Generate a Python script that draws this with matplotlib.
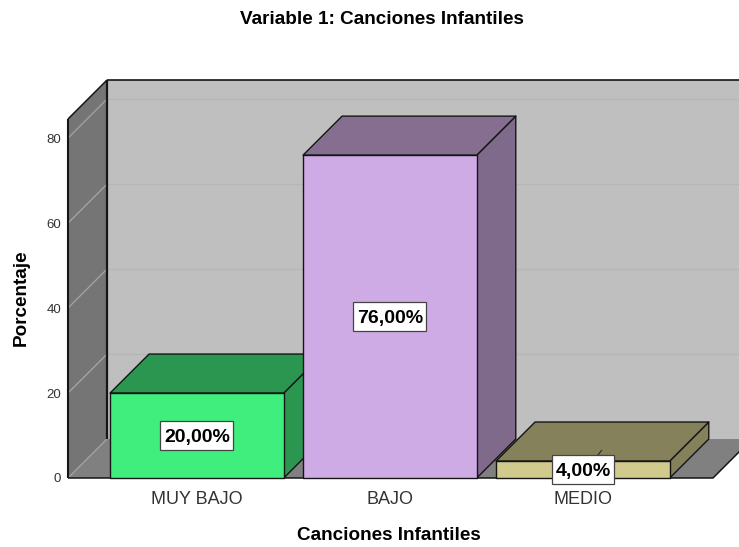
import matplotlib
matplotlib.use("Agg")
import matplotlib.pyplot as plt
from matplotlib.patches import Rectangle

plt.rcParams["font.family"] = ["Liberation Sans", "DejaVu Sans"]

# ---- data ----
categories = ["MUY BAJO", "BAJO", "MEDIO"]
percentages = [20, 76, 4]
value_labels = ["20,00%", "76,00%", "4,00%"]
y_ticks = [0, 20, 40, 60, 80]

# ---- colours (front, top, side) ----
front_colors = ["#40EE7E", "#CFABE5", "#D0CB8D"]
top_colors = ["#2A9650", "#856E90", "#84815B"]
side_colors = ["#2A9650", "#7F6A8C", "#84815B"]

W, H = 739, 547
fig = plt.figure(figsize=(W / 100, H / 100), dpi=100, facecolor="white")

# axes covers the front plane of the 3D box
ax = fig.add_axes([68 / W, (H - 478) / H, 645 / W, 359 / H])
xmin, xmax = -0.668, 2.674
ymin, ymax = 0, 84.5
ax.set_xlim(xmin, xmax)
ax.set_ylim(ymin, ymax)
ax.patch.set_visible(False)
for s in ax.spines.values():
    s.set_visible(False)

# depth of the box in data units
px_x = 1 / 193
px_y = 1 / 4.25
dx = 39 * px_x
dy = 39 * px_y
bar_width = 0.9
edge = "#151515"


def poly(xs, ys, color, z, ec="none", lw=1.0):
    ax.fill(xs, ys, facecolor=color, edgecolor=ec, linewidth=lw, zorder=z,
            clip_on=False, joinstyle="round")


def seg(xs, ys, color, lw, z):
    ax.plot(xs, ys, color=color, linewidth=lw, zorder=z, clip_on=False,
            solid_capstyle="butt")


# ---- walls and floor ----
right = xmax + dx
poly([xmin + dx, right, right, xmin + dx],
     [dy, dy, ymax + dy, ymax + dy], "#BFBFBF", 1)
poly([xmin, xmin + dx, xmin + dx, xmin],
     [0, dy, ymax + dy, ymax], "#757575", 1)
poly([xmin, xmax, xmax + dx, xmin + dx], [0, 0, dy, dy], "#808080", 1)

for t in y_ticks:
    if t > 0:
        seg([xmin + dx, right], [t + dy, t + dy], "#B6B6B6", 0.9, 2)
    seg([xmin, xmin + dx], [t, t + dy], "#A6A6A6", 0.9, 2)

seg([xmin, xmin], [0, ymax], edge, 1.5, 3)
seg([xmin + dx, xmin + dx], [dy, ymax + dy], edge, 1.6, 3)
seg([xmin, xmin + dx], [ymax, ymax + dy], edge, 1.1, 3)
seg([xmin + dx, right], [ymax + dy, ymax + dy], edge, 1.2, 3)
seg([xmin, xmax, xmax + dx], [0, 0, dy], edge, 1.1, 3)

# ---- bars, left to right so later ones cover earlier ones ----
for i, val in enumerate(percentages):
    x0 = i - bar_width / 2
    x1 = i + bar_width / 2
    z = 4 + i
    poly([x1, x1 + dx, x1 + dx, x1], [0, dy, val + dy, val],
         side_colors[i], z, edge)
    poly([x0, x1, x1 + dx, x0 + dx], [val, val, val + dy, val + dy],
         top_colors[i], z, edge)
    poly([x0, x1, x1, x0], [0, 0, val, val], front_colors[i], z, edge)

# small leader mark sticking out above the smallest bar's label
last = len(percentages) - 1
seg([last + 15 * px_x, last + 19 * px_x],
    [percentages[last] + 6 * px_y, percentages[last] + 11 * px_y],
    "#333333", 0.9, 8)

# ---- value labels: box is text width + padding, fixed height ----
renderer = fig.canvas.get_renderer()
for i, val in enumerate(percentages):
    t = ax.text(i, val / 2, value_labels[i], ha="center",
                va="center_baseline", fontsize=14, fontweight="bold",
                color="black", zorder=11)
    text_px = t.get_window_extent(renderer).width
    box_w = (text_px + 7) * px_x
    box_h = 29 * px_y
    ax.add_patch(Rectangle((i - box_w / 2, val / 2 - box_h / 2), box_w, box_h,
                           facecolor="white", edgecolor="#444444",
                           linewidth=0.9, zorder=10, clip_on=False))

# ---- ticks ----
ax.set_xticks(range(len(categories)))
ax.set_xticklabels(categories, fontsize=13, color="#333333")
ax.set_yticks(y_ticks)
ax.set_yticklabels([str(t) for t in y_ticks], fontsize=9.5, color="#333333")
ax.tick_params(axis="both", length=0)
ax.tick_params(axis="y", pad=5)
ax.tick_params(axis="x", pad=9)

# ---- titles ----
fig.text(382 / W, 1 - 19 / H, "Variable 1: Canciones Infantiles",
         ha="center", va="center", fontsize=13.6, fontweight="bold")
fig.text(389 / W, 1 - 536 / H, "Canciones Infantiles",
         ha="center", va="center", fontsize=13.6, fontweight="bold")
fig.text(21 / W, 1 - 298 / H, "Porcentaje", rotation=90,
         ha="center", va="center", fontsize=13.6, fontweight="bold")

fig.savefig("out.png", dpi=100)
